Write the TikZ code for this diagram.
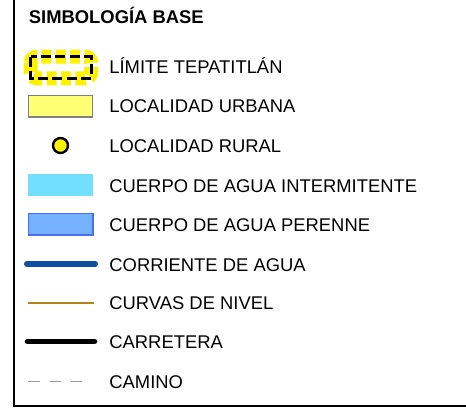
\documentclass[tikz,border=0pt]{standalone}
\usepackage{fontspec}
\setmainfont{Liberation Sans}
\usepackage{tikz}
\usetikzlibrary{positioning}

\definecolor{urbanyellow}{HTML}{FFFF73}
\definecolor{intercyan}{HTML}{73DFFF}
\definecolor{perennefill}{HTML}{74B1FF}
\definecolor{perenneedge}{HTML}{4A6EF0}
\definecolor{riverblue}{HTML}{0B4EA2}
\definecolor{contourbrown}{HTML}{B5831A}

\begin{document}
\begin{tikzpicture}[
		x=0.5pt, y=-0.5pt,
		title/.style={anchor=base west, inner sep=0pt, font=\fontsize{9.2}{11}\selectfont\bfseries},
		entry/.style={anchor=base west, inner sep=0pt, font=\fontsize{9.2}{11}\selectfont},
		swatch/.style={rectangle, inner sep=0pt, minimum width=32.2pt, minimum height=10.8pt},
		limitback/.style={line width=7pt, draw=yellow, dash pattern=on 5pt off 2.2pt, rounded corners=3pt},
		limitfront/.style={line width=1.4pt, draw=black, dash pattern=on 5pt off 2.2pt}
	]
		\useasboundingbox (0,0) rectangle (466,408);
		
		% frame
		\draw[line width=1pt] (13.5,0) -- (13.5,406) -- (466,406);
		
		\node[title](head) at (28.5,23.3){SIMBOLOGÍA BASE};
		
		% symbols
		\draw[limitback] (30.7,56.7) rectangle (91.2,78.3);
		\draw[limitfront] (30.7,56.7) rectangle (91.2,78.3);
		\node[swatch, fill=urbanyellow, draw=gray, line width=0.6pt](urb) at (60.5,106.2){};
		\node[circle, inner sep=0pt, minimum size=7.5pt, fill=yellow, draw=black, line width=1.2pt](rur) at (60.5,145.5){};
		\node[swatch, fill=intercyan](int) at (60.5,184.8){};
		\node[swatch, fill=perennefill, draw=perenneedge, line width=0.8pt](per) at (60.5,224.2){};
		\coordinate (riv-a) at (27,263.7);
		\coordinate (riv-b) at (95,263.7);
		\draw[riverblue, line width=3pt, line cap=round] (riv-a) -- (riv-b);
		\coordinate (cur-a) at (27.5,303);
		\coordinate (cur-b) at (94,303);
		\draw[contourbrown, line width=1.2pt] (cur-a) -- (cur-b);
		\coordinate (car-a) at (27.5,341.5);
		\coordinate (car-b) at (94.5,341.5);
		\draw[black, line width=2.8pt, line cap=round] (car-a) -- (car-b);
		\coordinate (cam-a) at (28.3,381.5);
		\coordinate (cam-b) at (81.7,381.5);
		\draw[gray!80, line width=0.8pt, dash pattern=on 5.75pt off 5pt] (cam-a) -- (cam-b);
		
		% labels
		\node[entry](lim-t) at (109,73.5){LÍMITE TEPATITLÁN};
		\node[entry](urb-t) at (109,112.2){LOCALIDAD URBANA};
		\node[entry](rur-t) at (109,152.3){LOCALIDAD RURAL};
		\node[entry](int-t) at (109,192.3){CUERPO DE AGUA INTERMITENTE};
		\node[entry](per-t) at (109,231.5){CUERPO DE AGUA PERENNE};
		\node[entry](riv-t) at (109,271){CORRIENTE DE AGUA};
		\node[entry](cur-t) at (109,309.8){CURVAS DE NIVEL};
		\node[entry](car-t) at (109,348){CARRETERA};
		\node[entry](cam-t) at (109,388){CAMINO};
	\end{tikzpicture}
\end{document}
